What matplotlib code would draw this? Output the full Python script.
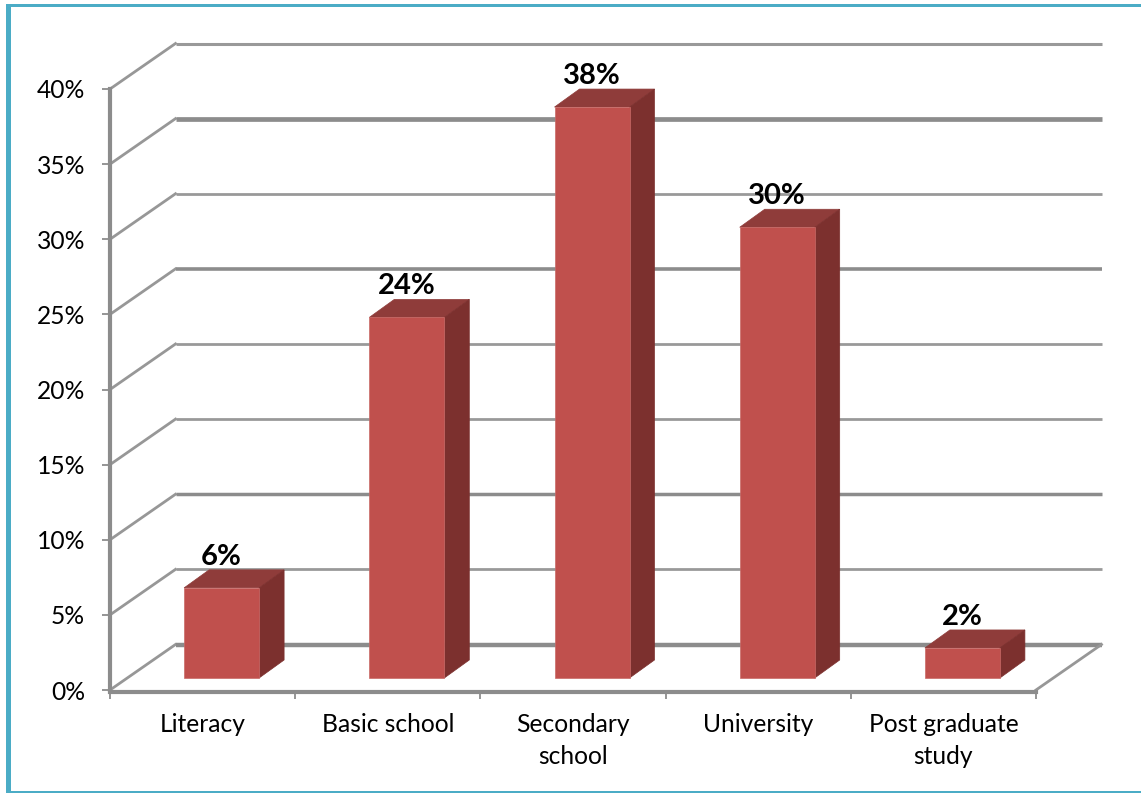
import numpy as np
import matplotlib
matplotlib.use('Agg')
import matplotlib.pyplot as plt
from matplotlib.patches import Rectangle

plt.rcParams['font.family'] = ['Lato', 'DejaVu Sans']

# data
categories = ['Literacy', 'Basic school', 'Secondary\nschool', 'University', 'Post graduate\nstudy']
values = [6, 24, 38, 30, 2]
y_ticks = [0, 5, 10, 15, 20, 25, 30, 35, 40]
y_labels = ['0%', '5%', '10%', '15%', '20%', '25%', '30%', '35%', '40%']

W, H = 1141, 793
GRID = '#8c8c8c'
FRONT = '#c0504d'
TOP = '#8f3c3a'
SIDE = '#7c302e'
FRAME = '#4bacc6'

fig = plt.figure(figsize=(W / 100, H / 100), dpi=100)
ax = fig.add_axes([110 / W, 1 - 690 / H, 926 / W, 601 / H])
ax.set_xlim(0, 5)
ax.set_ylim(0, 40)

# size of one category / one percent in pixels, to turn the 3d depth into data units
px_x = 926 / 5
px_y = 601 / 40
wall_dx = 65.5 / px_x
wall_dy = 45.5 / px_y
bar_shift_x = 19 / px_x
bar_shift_y = 12 / px_y
bar_dx = 25 / px_x
bar_dy = 18 / px_y
bar_w = 75 / px_x

# back wall and side gridlines, resampling made some of them look heavier
grid_lw = {0: 3.2, 5: 2.0, 10: 2.5, 15: 2.0, 20: 2.0, 25: 2.6, 30: 2.0, 35: 3.4, 40: 2.2}
for v in y_ticks:
    ax.plot([0, wall_dx], [v, v + wall_dy], color='#979797', lw=2.0, clip_on=False, zorder=1)
    ax.plot([wall_dx, 5 + wall_dx], [v + wall_dy, v + wall_dy], color='#999999' if grid_lw[v] < 2.3 else GRID,
            lw=grid_lw[v], clip_on=False, zorder=1, solid_capstyle='butt')
ax.plot([5, 5 + wall_dx], [0, wall_dy], color='#979797', lw=2.0, clip_on=False, zorder=1)

# bars
x = np.arange(len(values)) + 0.5 + bar_shift_x
ax.bar(x, values, bar_w, bottom=bar_shift_y, color=FRONT, edgecolor='#c96a67', lw=0.5, zorder=4, clip_on=False)
for xi, v in zip(x, values):
    l = xi - bar_w / 2
    r = xi + bar_w / 2
    t = bar_shift_y + v
    ax.fill([l, r, r + bar_dx, l + bar_dx], [t, t, t + bar_dy, t + bar_dy], color=TOP, lw=0.5, zorder=3, clip_on=False)
    ax.fill([r, r + bar_dx, r + bar_dx, r], [bar_shift_y, bar_shift_y + bar_dy, t + bar_dy, t],
            color=SIDE, lw=0.5, zorder=3, clip_on=False)
    ax.annotate('%d%%' % v, (xi, t), xytext=(0, 22.5), textcoords='offset points', ha='center', va='center',
                fontsize=21, fontweight='bold', color='black', zorder=5, annotation_clip=False)

# axes
for s in ['top', 'right']:
    ax.spines[s].set_visible(False)
ax.patch.set_alpha(0)
for s in ['left', 'bottom']:
    ax.spines[s].set_color(GRID)
    ax.spines[s].set_linewidth(3)
    ax.spines[s].set_zorder(2)
ax.spines['bottom'].set_position(('outward', 1.5))

ax.set_yticks(y_ticks)
ax.set_yticklabels(y_labels, fontsize=17.7, color='black')
ax.tick_params(axis='y', length=6, width=1.3, color=GRID, pad=12)
ax.set_xticks(range(6))
ax.set_xticklabels([])
ax.tick_params(axis='x', which='major', length=5, width=1.3, color=GRID)
ax.set_xticks(np.arange(5) + 0.5, minor=True)
ax.set_xticklabels(categories, minor=True, fontsize=17.7, color='black', linespacing=1.5)
ax.tick_params(axis='x', which='minor', length=0, pad=15)

# outer frame: left, top and bottom only
for box in [(6, 4, 5, H - 5), (6, 4, W - 6, 3), (6, H - 2, W - 6, 2)]:
    fig.add_artist(Rectangle((box[0] / W, 1 - (box[1] + box[3]) / H), box[2] / W, box[3] / H,
                             transform=fig.transFigure, color=FRAME, lw=0))

fig.savefig('out.png', dpi=100)
